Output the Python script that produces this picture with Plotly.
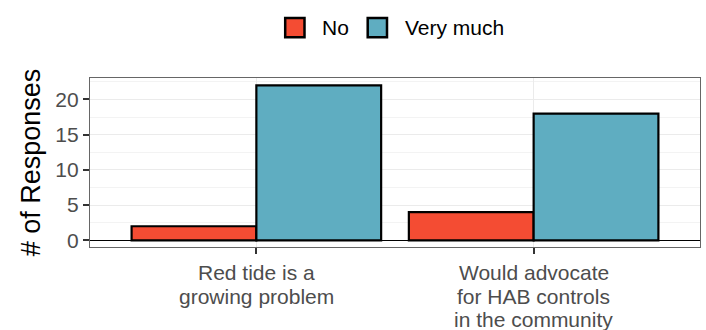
import plotly.graph_objects as go

category_lines = [["Red tide is a", "growing problem"],
                  ["Would advocate", "for HAB controls", "in the community"]]
categories = [" ".join(lines) for lines in category_lines]
no_values = [2, 4]
very_values = [22, 18]
series_names = ["No", "Very much"]
colors = ["#F44C33", "#5FADC1"]
y_ticks = [0, 5, 10, 15, 20]

# panel geometry (pixels)
W, H = 706, 330
L, R, T, B = 90, 6, 78, 83
PW, PH = W - L - R, H - T - B


def px_x(px):
    return (px - L) / PW


def px_y(py):
    return (H - B - py) / PH


fig = go.Figure()
for name, vals, col in zip(series_names, [no_values, very_values], colors):
    fig.add_trace(go.Bar(x=categories, y=vals, name=name,
                         marker=dict(color=col, line=dict(color="black", width=2.2)),
                         showlegend=False))

# category labels, one line each (tight line spacing like the reference)
for cat, lines in zip(categories, category_lines):
    for i, line in enumerate(lines):
        fig.add_annotation(x=cat, xref="x", y=0, yref="paper", yanchor="middle", xanchor="center",
                           yshift=-(25.7 + 23.3 * i), text=line, showarrow=False,
                           font=dict(size=21, color="#4D4D4D"))

# legend drawn manually (larger keys than plotly's legend allows)
legend_keys = [(284, 321.5), (366.5, 405)]
for (kx, tx), name, col in zip(legend_keys, series_names, colors):
    fig.add_shape(type="rect", xref="paper", yref="paper",
                  x0=px_x(kx + 1.2), x1=px_x(kx + 20.5), y0=px_y(37.2), y1=px_y(17.9),
                  fillcolor=col, line=dict(color="black", width=2.5))
    fig.add_annotation(x=px_x(tx - 2), y=px_y(27.5), xref="paper", yref="paper", xanchor="left",
                       yanchor="middle", text=name, showarrow=False,
                       font=dict(size=21, color="black"))

fig.update_layout(
    width=W, height=H,
    margin=dict(l=L, r=R, t=T, b=B, autoexpand=False),
    plot_bgcolor="white", paper_bgcolor="white",
    barmode="group", bargap=0.1, bargroupgap=0,
    showlegend=False,
    font=dict(family="Liberation Sans, Arial, sans-serif", color="#4D4D4D", size=21),
    xaxis=dict(range=[-0.6, 1.6], showgrid=True, gridcolor="#EBEBEB", gridwidth=1.2,
               showline=True, mirror=True, linecolor="#666666", linewidth=1.2,
               ticks="outside", ticklen=6, tickcolor="#333333", tickwidth=1.6,
               showticklabels=False, automargin=False),
    yaxis=dict(range=[-0.95, 23.05], tickvals=y_ticks, showgrid=True, gridcolor="#EBEBEB", gridwidth=1.2,
               minor=dict(dtick=2.5, tick0=0, showgrid=True, gridcolor="#F3F3F3", gridwidth=0.8),
               zeroline=True, zerolinecolor="black", zerolinewidth=1.4,
               showline=True, mirror=True, linecolor="#666666", linewidth=1.2,
               ticks="outside", ticklen=6, tickcolor="#333333", tickwidth=1.6,
               tickfont=dict(size=21, color="#4D4D4D"), automargin=False,
               title=dict(text="# of Responses", font=dict(size=27, color="black"), standoff=6)),
)
fig.write_html("out.html", config={"displayModeBar": False},
               post_script="document.body.style.margin='0';")
